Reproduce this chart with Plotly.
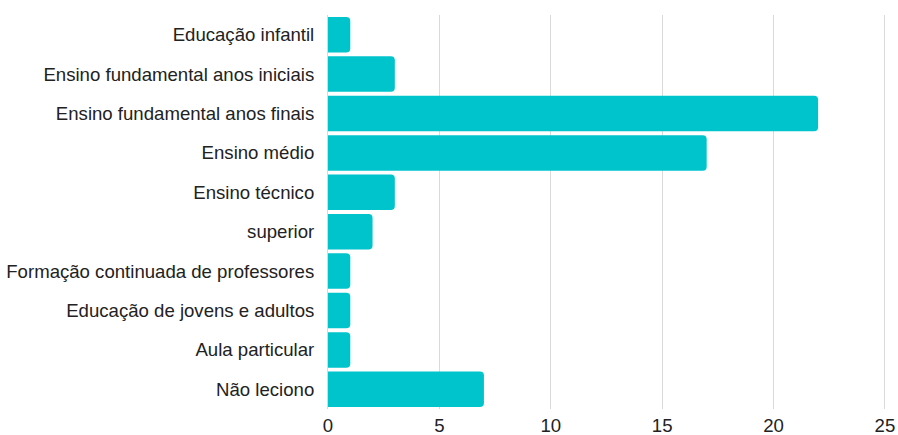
import plotly.graph_objects as go

categories = [
    "Educação infantil",
    "Ensino fundamental anos iniciais",
    "Ensino fundamental anos finais",
    "Ensino médio",
    "Ensino técnico",
    "superior",
    "Formação continuada de professores",
    "Educação de jovens e adultos",
    "Aula particular",
    "Não leciono",
]
counts = [1, 3, 22, 17, 3, 2, 1, 1, 1, 7]
x_ticks = [0, 5, 10, 15, 20, 25]

fig = go.Figure(
    go.Bar(
        x=counts,
        y=categories,
        orientation="h",
        marker=dict(color="#00C4CC", line=dict(width=0)),
        hoverinfo="x+y",
    )
)

fig.update_layout(
    width=898,
    height=435,
    margin=dict(l=328, r=12, t=15, b=26),
    paper_bgcolor="white",
    plot_bgcolor="white",
    bargap=0.1,
    barcornerradius=4,
    font=dict(family="Liberation Sans, Arial, sans-serif", size=18.6, color="#222222"),
    showlegend=False,
)
fig.update_xaxes(
    range=[0, 25.05],
    tickvals=x_ticks,
    showgrid=True,
    gridcolor="#DADADA",
    gridwidth=1,
    zeroline=False,
    showline=False,
    ticks="",
    ticklabelstandoff=3,
    tickfont=dict(size=18.6),
    automargin=False,
)
fig.update_yaxes(
    autorange="reversed",
    showgrid=False,
    showline=True,
    linecolor="#DADADA",
    ticks="",
    ticklabelstandoff=9,
    tickfont=dict(size=18.6),
    automargin=False,
)

fig.write_html("out.html")
